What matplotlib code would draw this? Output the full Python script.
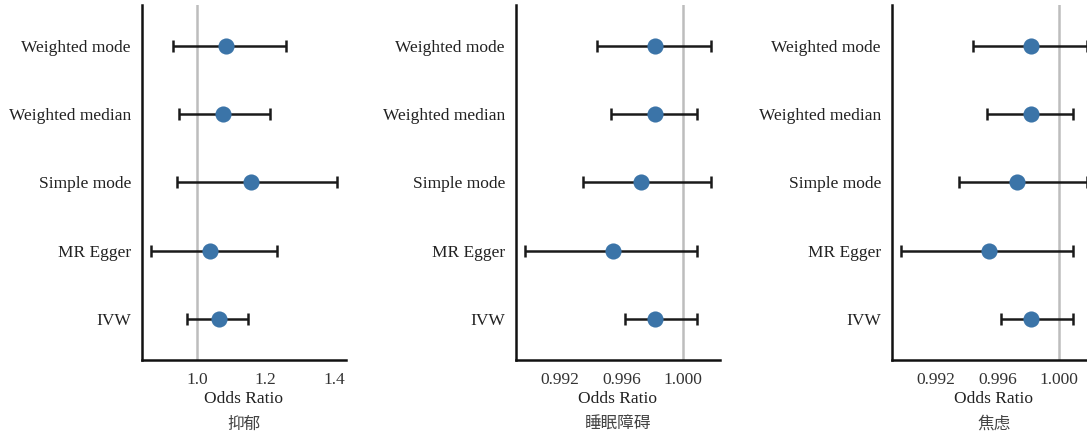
import matplotlib
matplotlib.use('Agg')
import matplotlib.pyplot as plt

methods = ['IVW', 'MR Egger', 'Simple mode', 'Weighted median', 'Weighted mode']

# 抑郁
dep_or = [1.062, 1.038, 1.156, 1.076, 1.085]
dep_lo = [0.971, 0.865, 0.941, 0.947, 0.929]
dep_hi = [1.147, 1.232, 1.409, 1.212, 1.259]

# 睡眠障碍
sleep_or = [0.99821, 0.99545, 0.99730, 0.99821, 0.99821]
sleep_lo = [0.99625, 0.98971, 0.99346, 0.99534, 0.99443]
sleep_hi = [1.00093, 1.00093, 1.00187, 1.00093, 1.00187]

# 焦虑
anx_or = [0.99821, 0.99545, 0.99730, 0.99821, 0.99821]
anx_lo = [0.99625, 0.98971, 0.99346, 0.99534, 0.99443]
anx_hi = [1.00093, 1.00093, 1.00187, 1.00093, 1.00187]

titles = ['抑郁', '睡眠障碍', '焦虑']
xticks = [[1.0, 1.2, 1.4], [0.992, 0.996, 1.000], [0.992, 0.996, 1.000]]
xticklabels = [['1.0', '1.2', '1.4'], ['0.992', '0.996', '1.000'], ['0.992', '0.996', '1.000']]
xlims = [(0.838, 1.435), (0.98912, 1.00243), (0.98912, 1.00243)]

panels = [(dep_or, dep_lo, dep_hi), (sleep_or, sleep_lo, sleep_hi), (anx_or, anx_lo, anx_hi)]
lefts = [142 / 1087, 516 / 1087, 892 / 1087]

plt.rcParams['font.family'] = ['Liberation Serif', 'Noto Sans CJK SC']

fig = plt.figure(figsize=(10.87, 4.34), dpi=100)

for i, (orv, lo, hi) in enumerate(panels):
    ax = fig.add_axes([lefts[i], 1 - 360 / 434, 204 / 1087, 355 / 434])
    y = list(range(len(methods)))
    ax.axvline(1.0, color='#bdbdbd', lw=1.8, zorder=1)
    err = [[o - l for o, l in zip(orv, lo)], [h - o for o, h in zip(orv, hi)]]
    ax.errorbar(orv, y, xerr=err, fmt='none', ecolor='#1a1a1a', elinewidth=1.8,
                capsize=4.5, capthick=1.8, zorder=2)
    ax.scatter(orv, y, s=135, color='#3b74a8', zorder=3, linewidths=0)
    ax.set_ylim(-0.6, 4.6)
    ax.set_xlim(*xlims[i])
    ax.set_yticks(y)
    ax.set_yticklabels(methods, fontsize=12.5, color='#222222')
    ax.set_xticks(xticks[i])
    ax.set_xticklabels(xticklabels[i], fontsize=12.5, color='#333333')
    ax.tick_params(length=0, pad=9)
    ax.tick_params(axis='y', pad=8)
    for s in ['top', 'right']:
        ax.spines[s].set_visible(False)
    for s in ['left', 'bottom']:
        ax.spines[s].set_linewidth(1.8)
        ax.spines[s].set_color('#111111')
    ax.text(0.5, -39 / 355, 'Odds Ratio', transform=ax.transAxes, ha='center', va='center',
            fontsize=12.5, color='#222222')
    ax.text(0.5, -64 / 355, titles[i], transform=ax.transAxes, ha='center', va='center',
            fontsize=12, color='#444444', family=['Noto Sans CJK SC', 'DejaVu Sans'])

fig.savefig('out.png', dpi=100)
